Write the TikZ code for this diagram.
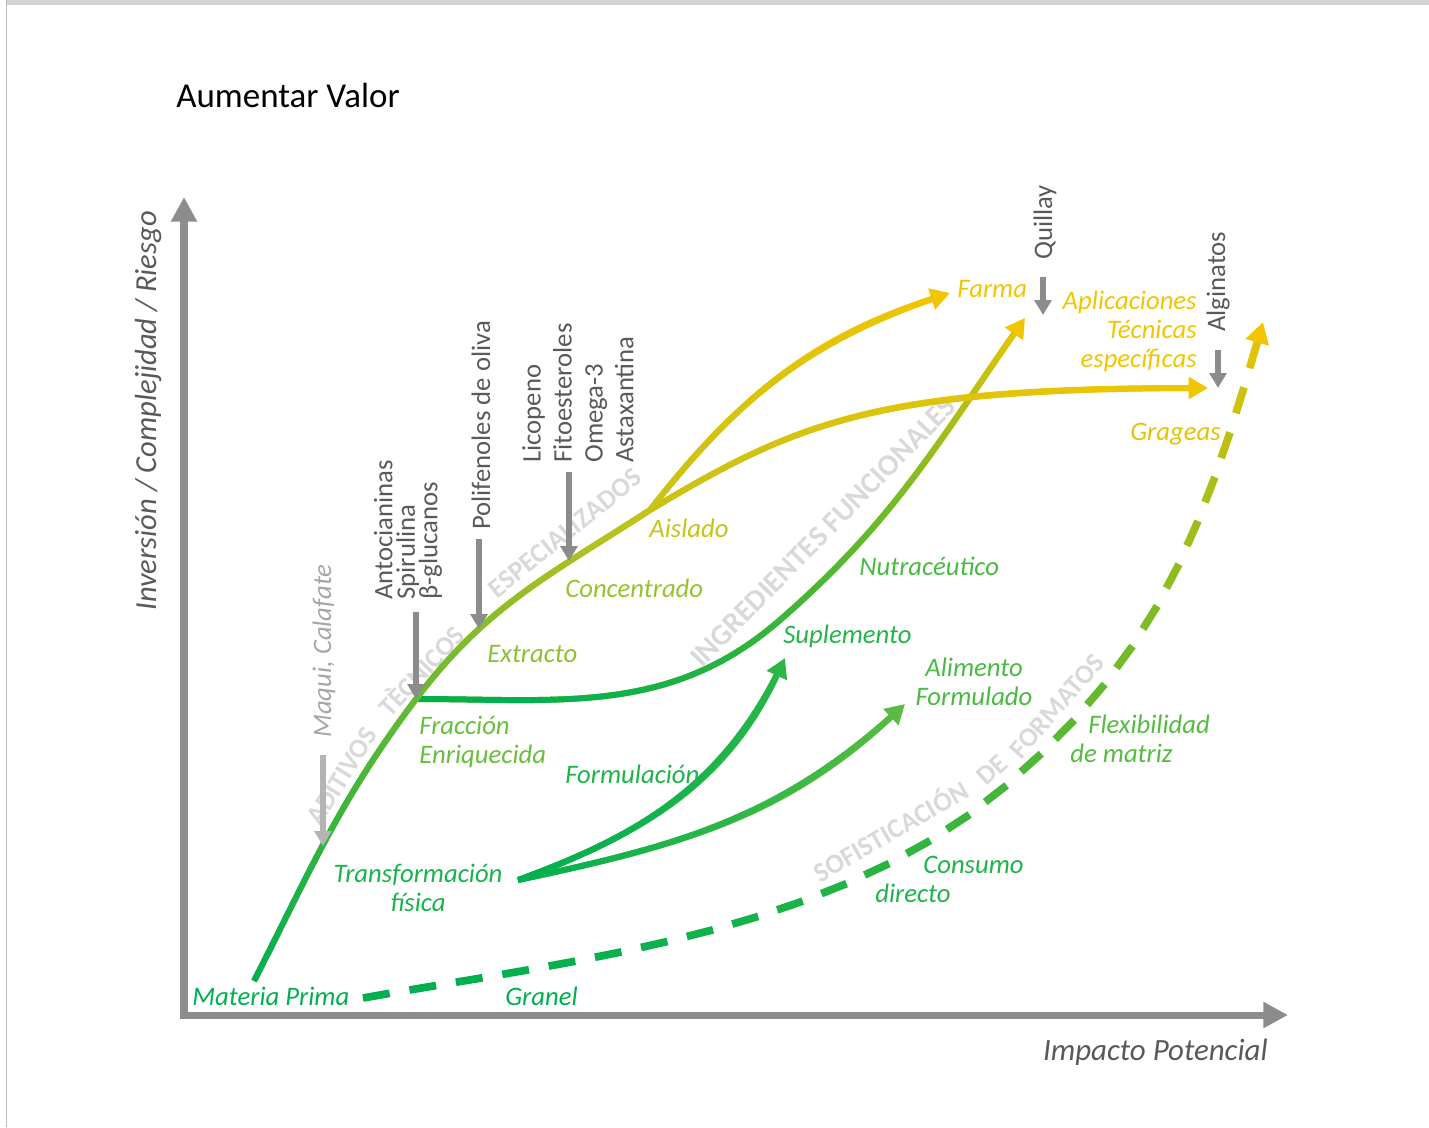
\documentclass[tikz,border=0pt]{standalone}
\usepackage{fontspec}
\setmainfont{Carlito}
\usepackage{tikz}
\usetikzlibrary{arrows.meta,calc,decorations.markings}
\definecolor{gA}{RGB}{0,176,80}
\definecolor{gB}{RGB}{122,193,58}
\definecolor{gC}{RGB}{200,195,25}
\definecolor{gD}{RGB}{242,197,0}
\definecolor{gSup}{RGB}{45,182,72}
\definecolor{gAli}{RGB}{90,188,64}
\definecolor{txtgray}{RGB}{89,89,89}
\definecolor{axisgray}{RGB}{140,140,140}
\definecolor{maquigray}{RGB}{166,166,166}
\definecolor{pinlight}{RGB}{180,180,180}
\definecolor{wmgray}{RGB}{217,217,217}
\definecolor{framegray}{RGB}{210,212,214}
\definecolor{edgegray}{RGB}{190,190,190}

\begin{document}
\begin{tikzpicture}[x=0.02cm,y=-0.02cm,
  lab/.style={font=\fontsize{15.2}{16.5}\selectfont\itshape,inner sep=0pt},
  itm/.style={font=\fontsize{15.2}{17.6}\selectfont,text=txtgray,inner sep=0pt,rotate=90,align=left},
  wm/.style={font=\fontsize{15.5}{17}\selectfont\bfseries,text=wmgray,inner sep=0pt},
  axis/.style={draw=axisgray,line width=4pt},
  pin/.style={draw=axisgray,line width=3pt,-{Triangle[length=8.5pt,width=9.5pt]}},
  flow/.style={line width=3.4pt,-{Triangle[length=11pt,width=12pt]}},
  grad/.style n args={4}{postaction={decorate,decoration={markings,
    mark=between positions 0 and #3 step 1.5pt with {\pgfmathtruncatemacro\gpos{100*(\pgfkeysvalueof{/pgf/decoration/mark info/distance from start}/\pgfdecoratedpathlength)^#4}%
      \draw[-,solid,line width=3.4pt,draw=#2!\gpos!#1] (0pt,0pt) -- (2.1pt,0pt);}}}},
  gdash/.style n args={4}{postaction={decorate,decoration={markings,
    mark=between positions 0 and #3 step 26.8pt with {\pgfmathtruncatemacro\gpos{100*(\pgfkeysvalueof{/pgf/decoration/mark info/distance from start}/\pgfdecoratedpathlength)^#4}%
      \draw[-,solid,line width=4.4pt,draw=#2!\gpos!#1] (0pt,0pt) -- (15.4pt,0pt);}}}}]

\useasboundingbox (0,0) rectangle (1429,1127);
\fill[framegray] (7,0) rectangle (1429,4.7);
\fill[edgegray] (5.6,0) rectangle (7.4,1127);

\node[wm,rotate=58] (aditivos) at (342,776) {ADITIVOS};
\node[wm,rotate=47] (tecnicos) at (420,670) {TÈCNICOS};
\node[wm,rotate=39] (especial) at (565,533) {ESPECIALIZADOS};
\node[wm,rotate=45.5,font=\fontsize{17}{19}\selectfont\bfseries] (ingred) at (823,532) {INGREDIENTES FUNCIONALES};
\node[wm,rotate=30] (sofist) at (890,830) {SOFISTICACIÓN};
\node[wm,rotate=42] (de) at (992,770) {DE};
\node[wm,rotate=49] (formatos) at (1057,706) {FORMATOS};

\coordinate (o) at (184,1015);
\coordinate (ytip) at (184,197);
\coordinate (xtip) at (1288,1015);
\draw[axis,{Triangle[length=14pt,width=14pt]}-{Triangle[length=14pt,width=14pt]}] (ytip) -- (o) -- (xtip);

\coordinate (mp) at (254,981);
\coordinate (mq) at (323,846);
\coordinate (fr) at (416,699);
\coordinate (ex) at (479,629);
\coordinate (co) at (569,561);
\coordinate (ai) at (650,510);
\coordinate (nt) at (780,620);
\coordinate (tf) at (518,880);
\coordinate (fa) at (950,293);
\coordinate (gr) at (1208,388);
\coordinate (nu) at (1025,318);
\coordinate (su) at (785,658);
\coordinate (al) at (905,704);
\coordinate (gs) at (363,998);
\coordinate (dm) at (1000,790);
\coordinate (fx) at (1263,322);
\coordinate (qu) at (1043,315);
\coordinate (ag) at (1218,388);

\draw[line width=4.4pt,draw=gD,dash pattern=on 0pt off 20pt,-{Triangle[length=12pt,width=13pt]},gdash={gA}{gD}{0.97}{2}] (gs) to[out=10,in=220,looseness=0.85] (dm) to[out=40,in=254] (fx);
\draw[flow,draw=gD,grad={gA}{gD}{0.97}{2}] (fr) to[out=0,in=221] (nt) to[out=41,in=235] (nu);
\draw[flow,draw=gSup,grad={gA}{gSup}{0.96}{1}] (tf) to[out=20,in=245] (su);
\draw[flow,draw=gAli,grad={gA}{gAli}{0.96}{1}] (tf) to[out=12,in=223] (al);
\draw[line width=3.4pt,draw=gC,grad={gA}{gC}{1}{1}] (mp) to[out=63,in=233] (fr) to[out=53,in=213] (ai);
\draw[flow,draw=gD,grad={gC}{gD}{0.96}{1}] (ai) to[out=52,in=198] (fa);
\draw[flow,draw=gD,grad={gC}{gD}{0.97}{1}] (ai) .. controls +(150,-90) and +(-328,0) .. (gr);

\node[font=\fontsize{19.9}{22}\selectfont,inner sep=0pt,anchor=base west] (title) at (176,107) {Aumentar Valor};
\node[font=\fontsize{17.4}{19}\selectfont\itshape,text=txtgray,inner sep=0pt,rotate=90,anchor=base west] (ylab) at (156,611) {Inversión / Complejidad / Riesgo};
\node[font=\fontsize{17.6}{19}\selectfont\itshape,text=txtgray,inner sep=0pt,anchor=base east] (xlab) at (1268,1060) {Impacto Potencial};

\node[itm,text=maquigray,font=\fontsize{15.2}{17.6}\selectfont\itshape,anchor=base west] (maqui) at (331,738) {Maqui, Calafate};
\node[itm,font={\fontsize{15.2}{12.8}\selectfont\lineskiplimit=-20pt\relax},anchor=west] (anto) at (408,600) {Antocianinas\\Spirulina\\β-glucanos};
\node[itm,anchor=base west] (poli) at (490,530) {Polifenoles de oliva};
\node[itm,anchor=west] (lico) at (578,463) {Licopeno\\Fitoesteroles\\Omega-3\\Astaxantina};
\node[itm,anchor=base west] (quil) at (1052,260) {Quillay};
\node[itm,anchor=base west] (algi) at (1225,332) {Alginatos};

\draw[pin,draw=pinlight] ($(mq |- maqui.west)+(0,17)$) -- (mq);
\draw[pin] ($(fr |- anto.west)+(0,12)$) -- (fr);
\draw[pin] ($(ex |- poli.west)+(0,9)$) -- (ex);
\draw[pin] ($(co |- lico.west)+(0,9)$) -- (co);
\draw[pin] ($(qu |- quil.west)+(0,17)$) -- (qu);
\draw[pin] ($(ag |- algi.west)+(0,18)$) -- (ag);

\node[lab,text=gA,anchor=base west] (matprima) at (192,1005) {Materia Prima};
\node[lab,text=gA,anchor=base west] (granel) at (505,1005) {Granel};
\node[lab,text=gB!20!gA,align=center] (transf) at (418,888) {Transformación\\física};
\node[lab,text=gB!85!gA,align=left,anchor=west] (fracc) at (419,742) {Fracción\\Enriquecida};
\node[lab,text=gC!20!gB,anchor=base west] (extr) at (487,662) {Extracto};
\node[lab,text=gC!40!gB,anchor=base west] (conc) at (565,597) {Concentrado};
\node[lab,text=gC,anchor=base west] (aisl) at (649,537) {Aislado};
\node[lab,text=gB!25!gA,anchor=base west] (formul) at (565,783) {Formulación};
\node[lab,text=gB!30!gA,anchor=base west] (suple) at (783,643) {Suplemento};
\node[lab,text=gB!60!gA,align=center] (alim) at (974,682) {Alimento\\Formulado};
\node[lab,text=gB!60!gA,anchor=base west] (nutra) at (859,575) {Nutracéutico};
\node[lab,text=gB!25!gA,anchor=base west] (consumo) at (923,873) {Consumo};
\node[lab,text=gB!25!gA,anchor=base west] (directo) at (875,902) {directo};
\node[lab,text=gB!70!gA,anchor=base west] (flexi) at (1088,733) {Flexibilidad};
\node[lab,text=gB!70!gA,anchor=base west] (matriz) at (1070,762) {de matriz};
\node[lab,text=gD,anchor=base west] (farma) at (957,297) {Farma};
\node[lab,text=gD,align=right,anchor=east] (aplic) at (1197,331) {Aplicaciones\\Técnicas\\específicas};
\node[lab,text=gC!40!gD,anchor=base west] (grag) at (1130,440) {Grageas};
\end{tikzpicture}
\end{document}
